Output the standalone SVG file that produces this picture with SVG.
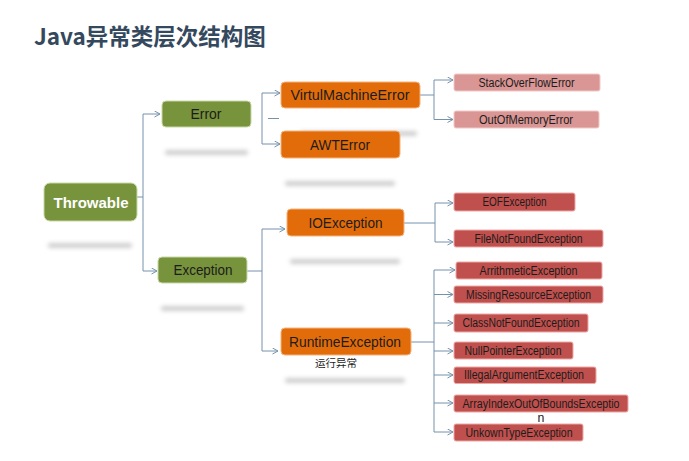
<svg xmlns="http://www.w3.org/2000/svg" width="689" height="461" viewBox="0 0 689 461">
<defs>
<filter id="blur" x="-20%" y="-200%" width="140%" height="500%"><feGaussianBlur stdDeviation="2"/></filter>
<marker id="arr" markerWidth="8" markerHeight="8" refX="6" refY="3.5" orient="auto" markerUnits="userSpaceOnUse">
<path d="M0.5,0.5 L6,3.5 L0.5,6.5" fill="none" stroke="#7592aa" stroke-width="1"/>
</marker>
<style>
.t{font-family:"Liberation Sans",Arial,sans-serif;text-anchor:middle;fill:#1c1c1c}
.big{font-size:14.5px}
.sm{font-size:12.3px}
.g{fill:#77933c;stroke:#c8d8a8;stroke-width:1}
.o{fill:#e36c0a;stroke:#f4b27a;stroke-width:1}
.p{fill:#d99694;stroke:#f0c8c6;stroke-width:1}
.r{fill:#c0504d;stroke:#eaa8a6;stroke-width:1}
.sh{fill:#cfcfcf;filter:url(#blur)}
.c{fill:none;stroke:#7592aa;stroke-width:1}
.a{marker-end:url(#arr)}
</style>
</defs>
<rect width="689" height="461" fill="#ffffff"/>
<text x="34" y="45" font-family="'Noto Sans CJK SC','Noto Sans',sans-serif" font-size="22.5" font-weight="bold" fill="#34495e">Java异常类层次结构图</text>

<g id="shadows">
<rect class="sh" x="48" y="243" width="84" height="5" rx="2"/>
<rect class="sh" x="165" y="150" width="83" height="5" rx="2"/>
<rect class="sh" x="161" y="306" width="83" height="5" rx="2"/>
<rect class="sh" x="300" y="131" width="117" height="5" rx="2"/>
<rect class="sh" x="285" y="181" width="110" height="5" rx="2"/>
<rect class="sh" x="290" y="259" width="110" height="5" rx="2"/>
<rect class="sh" x="285" y="378" width="120" height="5" rx="2"/>
</g>

<g id="connectors">
<path class="c" d="M137,197 H143 M143,114 V271"/>
<path class="c a" d="M143,114 H160"/>
<path class="c a" d="M143,271 H157"/>
<path class="c" d="M262,93 V144 M268,118.5 H279"/>
<path class="c a" d="M262,93 H280"/>
<path class="c a" d="M262,144 H280"/>
<path class="c" d="M420,95 H434 M434,80 V119.5"/>
<path class="c a" d="M434,80 H453"/>
<path class="c a" d="M434,119.5 H453"/>
<path class="c" d="M247,271 H262 M262,229 V351"/>
<path class="c a" d="M262,229 H285"/>
<path class="c a" d="M262,351 H278"/>
<path class="c" d="M404,223 H435 M435,203 V242"/>
<path class="c a" d="M435,203 H453"/>
<path class="c a" d="M435,242 H453"/>
<path class="c" d="M411,342 H434 M434,270 V432"/>
<path class="c a" d="M434,270 H455"/>
<path class="c a" d="M434,294.5 H453"/>
<path class="c a" d="M434,323 H453"/>
<path class="c a" d="M434,351 H453"/>
<path class="c a" d="M434,375 H453"/>
<path class="c a" d="M434,403 H453"/>
<path class="c a" d="M434,432 H453"/>
</g>

<g id="Throwable"><rect class="g" x="44" y="183" width="93" height="38" rx="6"/><text x="91" y="208" font-family="'Liberation Sans',Arial,sans-serif" font-size="15.5" font-weight="bold" fill="#ffffff" text-anchor="middle" textLength="75" lengthAdjust="spacingAndGlyphs">Throwable</text></g>
<g id="Error"><rect class="g" x="162" y="101" width="89" height="26" rx="4"/><text class="t big" x="206" y="119" textLength="31" lengthAdjust="spacingAndGlyphs">Error</text></g>
<g id="Exception"><rect class="g" x="158" y="257" width="89" height="26" rx="4"/><text class="t big" x="203" y="275" textLength="59" lengthAdjust="spacingAndGlyphs">Exception</text></g>
<g id="VirtulMachineError"><rect class="o" x="281" y="82" width="139" height="26" rx="4"/><text class="t big" x="350" y="100" textLength="119" lengthAdjust="spacingAndGlyphs">VirtulMachineError</text></g>
<g id="AWTError"><rect class="o" x="281" y="131" width="119" height="27" rx="4"/><text class="t big" x="340" y="149.5" textLength="60" lengthAdjust="spacingAndGlyphs">AWTError</text></g>
<g id="IOException"><rect class="o" x="287" y="209" width="117" height="27" rx="4"/><text class="t big" x="345.5" y="227.5" textLength="74" lengthAdjust="spacingAndGlyphs">IOException</text></g>
<g id="RuntimeException"><rect class="o" x="281" y="328" width="130" height="27" rx="4"/><text class="t big" x="345" y="347" textLength="112" lengthAdjust="spacingAndGlyphs">RuntimeException</text>
<text x="336" y="367" font-family="'Noto Sans CJK SC',sans-serif" font-size="10.5" fill="#1c1c1c" text-anchor="middle">运行异常</text></g>
<g id="StackOverFlowError"><rect class="p" x="454" y="74" width="146" height="17" rx="2"/><text class="t sm" x="526.5" y="86.8" textLength="96" lengthAdjust="spacingAndGlyphs">StackOverFlowError</text></g>
<g id="OutOfMemoryError"><rect class="p" x="454" y="111" width="145" height="17" rx="2"/><text class="t sm" x="526" y="123.8" textLength="94" lengthAdjust="spacingAndGlyphs">OutOfMemoryError</text></g>
<g id="EOFException"><rect class="r" x="454" y="193" width="121" height="18" rx="2"/><text class="t sm" x="514.5" y="206.3" textLength="64" lengthAdjust="spacingAndGlyphs">EOFException</text></g>
<g id="FileNotFoundException"><rect class="r" x="454" y="230" width="149" height="17" rx="2"/><text class="t sm" x="528.5" y="242.8" textLength="108" lengthAdjust="spacingAndGlyphs">FileNotFoundException</text></g>
<g id="ArrithmeticException"><rect class="r" x="456" y="262" width="146" height="17" rx="2"/><text class="t sm" x="528.5" y="274.8" textLength="98" lengthAdjust="spacingAndGlyphs">ArrithmeticException</text></g>
<g id="MissingResourceException"><rect class="r" x="454" y="286" width="149" height="17" rx="2"/><text class="t sm" x="528.5" y="298.8" textLength="125" lengthAdjust="spacingAndGlyphs">MissingResourceException</text></g>
<g id="ClassNotFoundException"><rect class="r" x="454" y="314" width="134" height="18" rx="2"/><text class="t sm" x="521" y="327.3" textLength="117" lengthAdjust="spacingAndGlyphs">ClassNotFoundException</text></g>
<g id="NullPointerException"><rect class="r" x="454" y="342" width="119" height="17" rx="2"/><text class="t sm" x="513" y="354.8" textLength="97" lengthAdjust="spacingAndGlyphs">NullPointerException</text></g>
<g id="IllegalArgumentException"><rect class="r" x="454" y="367" width="142" height="16.5" rx="2"/><text class="t sm" x="524" y="379.3" textLength="120" lengthAdjust="spacingAndGlyphs">IllegalArgumentException</text></g>
<g id="ArrayIndexOutOfBoundsException"><rect class="r" x="454" y="395" width="174" height="17" rx="2"/><text class="t sm" x="541" y="407.8" textLength="157" lengthAdjust="spacingAndGlyphs">ArrayIndexOutOfBoundsExceptio</text>
<text class="t sm" x="541" y="421.5">n</text></g>
<g id="UnkownTypeException"><rect class="r" x="454" y="424" width="129" height="17" rx="2"/><text class="t sm" x="519" y="436.8" textLength="107" lengthAdjust="spacingAndGlyphs">UnkownTypeException</text></g>
</svg>
